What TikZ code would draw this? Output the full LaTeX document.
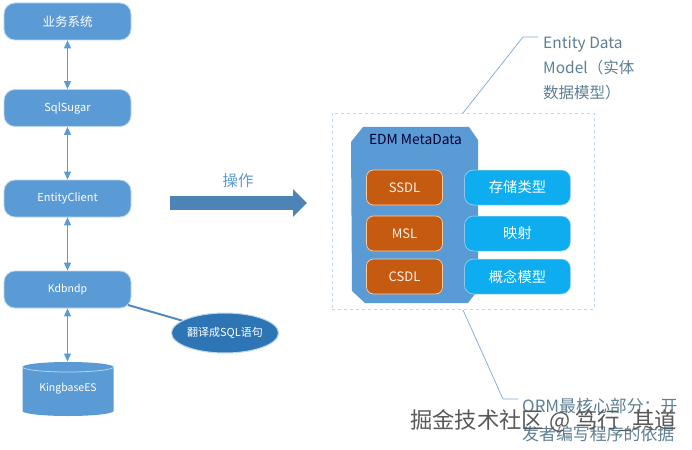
\documentclass[tikz,border=0pt]{standalone}
\usepackage{fontspec}
\setmainfont{Noto Sans CJK SC}
\usetikzlibrary{shapes.geometric,arrows.meta}
\definecolor{bluebox}{HTML}{5B9BD5}
\definecolor{edgeb}{HTML}{BDD7EE}
\definecolor{darkell}{HTML}{2E75B6}
\definecolor{orangebox}{HTML}{C55A11}
\definecolor{cyanbox}{HTML}{0EADEF}
\definecolor{linkb}{HTML}{7FA8D6}
\definecolor{labelb}{HTML}{5E7F94}
\newcommand{\fsz}[1]{\fontsize{#1}{#1}\selectfont}
\tikzset{
  pbox/.style={draw=edgeb,line width=.8pt,fill=bluebox,rounded corners=11pt,minimum width=127pt,minimum height=37pt,text=white,font=\fsz{11},inner sep=0pt},
  obox/.style={draw=orange!40!white,line width=.7pt,fill=orangebox,rounded corners=7pt,minimum width=76pt,minimum height=35pt,text=white!90!orange,font=\fsz{13},inner sep=0pt},
  cbox/.style={draw=edgeb,line width=.5pt,fill=cyanbox,rounded corners=9pt,minimum width=106pt,minimum height=35pt,text=white,font=\fsz{14.3},inner sep=0pt},
  twoway/.style={draw=bluebox,line width=1pt,{Triangle[length=8pt,width=7pt]}-{Triangle[length=8pt,width=7pt]}},
  calline/.style={draw=linkb,line width=.7pt},
  callabel/.style={anchor=north west,inner sep=0pt,text=labelb,align=left}
}
\begin{document}
\begin{tikzpicture}[x=1pt,y=-1pt]
\useasboundingbox[fill=white] (0,0) rectangle (692,449);
\node[pbox,font=\fsz{12.5}] (biz) at (67.5,21.5) {业务系统};
\node[pbox] (sugar) at (67.5,108) {SqlSugar};
\node[pbox] (client) at (67.5,198.5) {EntityClient};
\node[pbox,font=\fsz{10.5}] (kdb) at (67.5,289.5) {Kdbndp};
% cylinder
\path[fill=bluebox] (22.5,367) arc[x radius=45.5,y radius=5,start angle=180,end angle=360] -- (113.5,411) arc[x radius=45.5,y radius=5,start angle=0,end angle=180] -- cycle;
\draw[edgeb,line width=.7pt] (22.5,367) arc[x radius=45.5,y radius=5,start angle=180,end angle=0];
\node[text=white,font=\fsz{10.5},inner sep=0pt] (kes) at (68,389) {KingbaseES};
\coordinate (kestop) at (67.5,361.5);
\draw[twoway] (biz) -- (sugar);
\draw[twoway] (sugar) -- (client);
\draw[twoway] (client) -- (kdb);
\draw[twoway] (kdb) -- (kestop);
\coordinate (kdbc) at (128,305);
\coordinate (sqlc) at (225,333);
\draw[bluebox!90!black,line width=2pt] (kdbc) -- (sqlc);
\node[ellipse,draw=edgeb,line width=1pt,fill=darkell,minimum width=86pt,minimum height=40pt,inner sep=0pt,text=white,font=\fsz{11}] (sql) at (sqlc) {翻译成SQL语句};
% big arrow
\coordinate (arrs) at (170,203);
\coordinate (arre) at (307,203);
\node[text=bluebox,font=\fsz{15.5},inner sep=0pt] (op) at (238,181) {操作};
\draw[-{Triangle[length=14pt,width=27pt]},draw=bluebox!85!black,line width=13.5pt] (arrs) -- (arre);
% dashed frame
\node[draw=edgeb,dashed,line width=.7pt,minimum width=262pt,minimum height=196pt,inner sep=0pt] (frame) at (463,211) {};
% EDM
\path[fill=bluebox] (351,142) -- (363,127) -- (469,127) -- (478,140) -- (478,290) -- (468,303) -- (365,303) -- (352,291) -- cycle;
\node[font=\fsz{13.8},text=black!80!blue,inner sep=0pt] (edm) at (415.5,140) {EDM MetaData};
\node[obox] (ssdl) at (404.5,187.5) {SSDL};
\node[obox] (msl) at (404.5,233.5) {MSL};
\node[obox] (csdl) at (404.5,276.5) {CSDL};
\node[cbox] (s1) at (517.5,187.5) {存储类型};
\node[cbox] (s2) at (517.5,233.5) {映射};
\node[cbox] (s3) at (517.5,276.5) {概念模型};
% callouts
\coordinate (c1a) at (463,113);
\coordinate (c1b) at (523,37);
\coordinate (c1c) at (538,37);
\draw[calline] (c1a) -- (c1b) -- (c1c);
\node[callabel,font=\fontsize{15.5}{25}\selectfont] (t1) at (543,36.5) {Entity Data\\Model（实体\\数据模型）};
\coordinate (c2a) at (463,310);
\coordinate (c2b) at (503,399);
\coordinate (c2c) at (518,399);
\draw[calline] (c2a) -- (c2b) -- (c2c);
\node[callabel,text width=165pt,font=\fontsize{16.9}{28}\selectfont] (t2) at (522,398) {ORM最核心部分：开\\发者编写程序的依据};
\node[font=\fsz{22.3},text=black!65,inner sep=0pt,anchor=east] (wm) at (677,421) {掘金技术社区 @ 笃行\_其道};
\end{tikzpicture}
\end{document}
